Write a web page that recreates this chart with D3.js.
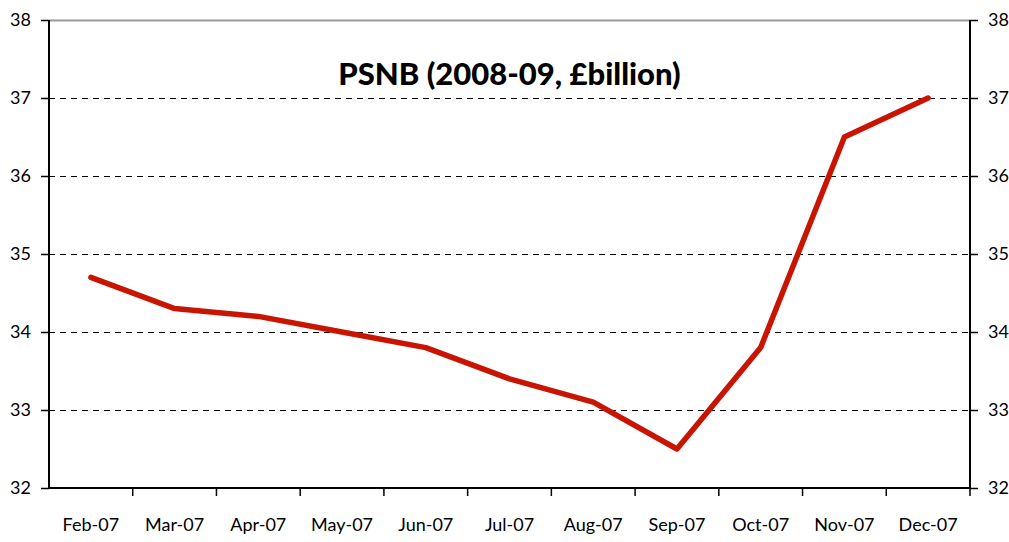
<!DOCTYPE html>
<html>
<head>
<meta charset="utf-8">
<script src="https://cdn.jsdelivr.net/npm/d3@7"></script>
<style>
  body { margin: 0; background: #fff; }
  text { font-family: Lato, "Noto Sans", sans-serif; }
</style>
</head>
<body>
<div id="chart"></div>
<script>
// Data
var months = ['Feb-07', 'Mar-07', 'Apr-07', 'May-07', 'Jun-07', 'Jul-07',
  'Aug-07', 'Sep-07', 'Oct-07', 'Nov-07', 'Dec-07'];
var psnb = [34.7, 34.3, 34.2, 34.0, 33.8, 33.4, 33.1, 32.5, 33.8, 36.5, 37.0];
var yTicks = [32, 33, 34, 35, 36, 37, 38];
var chartTitle = 'PSNB (2008-09, £billion)';

var svgWidth = 1009;
var svgHeight = 542;
var margin = { top: 20, right: 39, bottom: 54, left: 49 };
var width = svgWidth - margin.left - margin.right;
var height = svgHeight - margin.top - margin.bottom;

var svg = d3.select('#chart')
  .append('svg')
  .attr('width', svgWidth)
  .attr('height', svgHeight);

var chartGroup = svg.append('g')
  .attr('transform', `translate(${margin.left}, ${margin.top})`);

var xScale = d3.scaleBand()
  .domain(months)
  .range([0, width]);

var yScale = d3.scaleLinear()
  .domain([32, 38])
  .range([height, 0]);

// gridlines
chartGroup.selectAll('.grid')
  .data(yTicks.filter(d => d > 32))
  .enter()
  .append('line')
  .attr('x1', 0)
  .attr('x2', width)
  .attr('y1', d => Math.round(yScale(d)) + 0.5)
  .attr('y2', d => Math.round(yScale(d)) + 0.5)
  .attr('stroke', d => d === 38 ? '#999' : '#000')
  .attr('stroke-width', d => d === 38 ? 2 : 1)
  .attr('stroke-dasharray', d => d === 38 ? null : '6,5');

// axes
var fmt = d3.format('d');
var leftAxis = d3.axisLeft(yScale).tickValues(yTicks).tickFormat(fmt).tickSize(8).tickPadding(10);
var rightAxis = d3.axisRight(yScale).tickValues(yTicks).tickFormat(fmt).tickSize(8).tickPadding(10);
var bottomAxis = d3.axisBottom(xScale).tickSize(0).tickPadding(30);

function styleAxis(g) {
  g.select('.domain').attr('stroke', '#000').attr('stroke-width', 2);
  g.selectAll('.tick line').attr('stroke', '#000').attr('stroke-width', 1.5);
  g.selectAll('text').attr('font-size', 18).attr('fill', '#000')
    .style('font-family', 'Lato, "Noto Sans", sans-serif');
}

chartGroup.append('g').call(leftAxis).call(styleAxis)
  .call(g => g.select('.domain').attr('d', `M0,${height}V0`));
chartGroup.append('g').attr('transform', `translate(${width}, 0)`).call(rightAxis).call(styleAxis)
  .call(g => g.select('.domain').attr('d', `M0,${height}V0`));

var xAxisG = chartGroup.append('g')
  .attr('transform', `translate(0, ${height})`)
  .call(bottomAxis).call(styleAxis);
xAxisG.select('.domain').attr('d', `M0,0H${width}`);

// band boundary ticks
chartGroup.selectAll('.xtick')
  .data(months)
  .enter()
  .append('line')
  .attr('x1', d => xScale(d) + xScale.bandwidth())
  .attr('x2', d => xScale(d) + xScale.bandwidth())
  .attr('y1', height)
  .attr('y2', height + 8)
  .attr('stroke', '#000')
  .attr('stroke-width', 1.5);

// line
var line = d3.line()
  .x((d, i) => xScale(months[i]) + xScale.bandwidth() / 2)
  .y(d => yScale(d));

chartGroup.append('path')
  .datum(psnb)
  .attr('d', line)
  .attr('fill', 'none')
  .attr('stroke', '#c81400')
  .attr('stroke-width', 5.5)
  .attr('stroke-linejoin', 'round')
  .attr('stroke-linecap', 'round');

// title
chartGroup.append('text')
  .attr('x', width / 2)
  .attr('y', 65)
  .attr('text-anchor', 'middle')
  .attr('font-size', 31)
  .attr('font-weight', 900)
  .text(chartTitle);
</script>
</body>
</html>
